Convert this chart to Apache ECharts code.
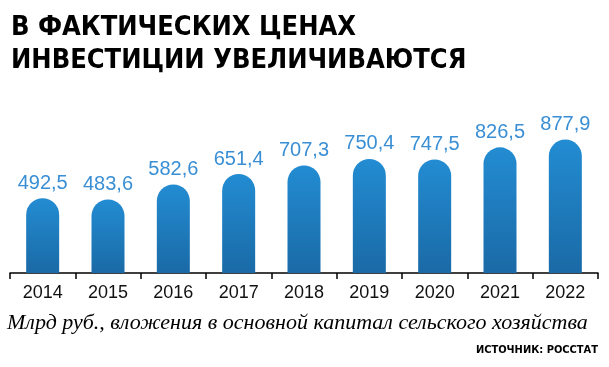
<!DOCTYPE html>
<html><head><meta charset="utf-8">
<script src="https://cdn.jsdelivr.net/npm/echarts@6/dist/echarts.min.js"></script>
<style>html,body{margin:0;padding:0;background:#fff}#c{width:609px;height:367px}</style>
</head><body><div id="c"></div>
<script>
const years = ['2014','2015','2016','2017','2018','2019','2020','2021','2022'];
const values = [492.5, 483.6, 582.6, 651.4, 707.3, 750.4, 747.5, 826.5, 877.9];
const titleText = 'В ФАКТИЧЕСКИХ ЦЕНАХ\nИНВЕСТИЦИИ УВЕЛИЧИВАЮТСЯ';
const noteText = 'Млрд руб., вложения в основной капитал сельского хозяйства';
const sourceText = 'ИСТОЧНИК: РОССТАТ';

const chart = echarts.init(document.getElementById('c'));
chart.setOption({
  animation: false,
  title: [{
    text: titleText, left: 6, top: 6,
    textStyle: {fontFamily: 'DejaVu Sans Condensed', fontWeight: 'bold', fontSize: 27, lineHeight: 33, color: '#000'}
  }],
  graphic: [
    {type: 'text', left: 7, top: 312, style: {text: noteText, font: 'italic 22px "Liberation Serif"', fill: '#000'}},
    {type: 'text', right: 11, top: 345, style: {text: sourceText, font: 'bold 11px "DejaVu Sans Condensed"', fill: '#000'}}
  ],
  grid: {left: 10, right: 11, top: 121, bottom: 94},
  xAxis: {
    type: 'category', data: years,
    axisLine: {lineStyle: {color: '#000', width: 1.5}},
    axisTick: {show: true, inside: false, length: 6, lineStyle: {color: '#000', width: 1.5}},
    axisLabel: {fontFamily: 'Liberation Sans', fontSize: 18, color: '#111', margin: 11}
  },
  yAxis: {type: 'value', min: 0, max: 1000, show: false, splitLine: {show: false}},
  series: [{
    type: 'bar', data: values, barWidth: 33,
    itemStyle: {
      borderRadius: [16.5, 16.5, 0, 0],
      color: new echarts.graphic.LinearGradient(0, 0, 0, 1, [
        {offset: 0, color: '#238cd2'}, {offset: 1, color: '#1a6aa6'}
      ])
    },
    label: {
      show: true, position: 'top', distance: 5,
      formatter: p => String(p.value).replace('.', ','),
      fontFamily: 'Liberation Sans', fontSize: 20, color: '#3a8fd4'
    }
  }]
});
</script></body></html>
